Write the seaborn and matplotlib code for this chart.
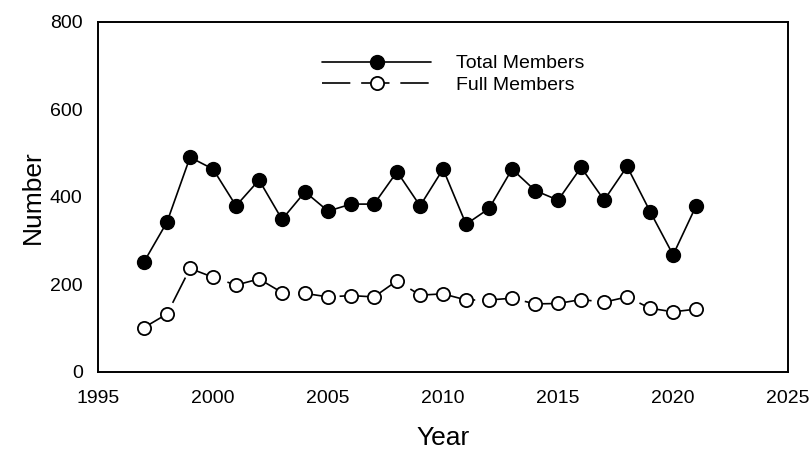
import matplotlib
matplotlib.use('Agg')
import matplotlib.pyplot as plt
import pandas as pd
import seaborn as sns

YEARS = list(range(1997, 2022))
TOTAL_MEMBERS = [251, 342, 490, 463, 379, 438, 348, 411, 367, 383, 383, 457, 379,
                 463, 337, 373, 463, 414, 392, 467, 392, 469, 366, 267, 379]
FULL_MEMBERS = [101, 132, 236, 216, 198, 212, 181, 179, 171, 174, 171, 208, 175,
                178, 164, 164, 168, 155, 156, 165, 159, 171, 145, 137, 143]

X_TICKS = [1995, 2000, 2005, 2010, 2015, 2020, 2025]
Y_TICKS = [0, 200, 400, 600, 800]

sns.set_style('white')
plt.rcParams['font.family'] = ['Liberation Sans', 'DejaVu Sans']
plt.rcParams['text.color'] = 'black'
plt.rcParams['axes.labelcolor'] = 'black'

df = pd.DataFrame({'Year': YEARS, 'Total': TOTAL_MEMBERS, 'Full': FULL_MEMBERS})

fig = plt.figure(figsize=(8.1, 4.49), dpi=100)
ax = fig.add_axes([0.121, 0.172, 0.852, 0.780])

sns.lineplot(data=df, x='Year', y='Total', ax=ax, color='black', lw=1.2,
             marker='o', markersize=10, markerfacecolor='black',
             markeredgecolor='black', markeredgewidth=1.0,
             label='Total Members')
sns.lineplot(data=df, x='Year', y='Full', ax=ax, color='black', lw=1.2,
             linestyle=(0, (17, 6.5)),
             marker='o', markersize=9.5, markerfacecolor='white',
             markeredgecolor='black', markeredgewidth=1.3,
             label='Full Members')

ax.set_xlim(1995, 2025)
ax.set_ylim(0, 800)
ax.set_xticks(X_TICKS)
ax.set_yticks(Y_TICKS)
ax.tick_params(axis='both', direction='out', length=6, width=1.3,
               labelsize=14, color='black', labelcolor='black', pad=5)
ax.tick_params(axis='x', pad=7)
for side in ['left', 'bottom', 'right', 'top']:
    ax.spines[side].set_visible(True)
    ax.spines[side].set_color('black')
    ax.spines[side].set_linewidth(1.4)

ax.set_xlabel('Year', fontsize=19, labelpad=14, color='black')
ax.set_ylabel('Number', fontsize=19, labelpad=4, color='black')

ax.legend(loc='upper left', bbox_to_anchor=(0.325, 0.905), frameon=False,
          fontsize=14, handlelength=5.6, handletextpad=1.3,
          labelspacing=0.2, borderpad=0, borderaxespad=0, numpoints=1)

fig.savefig('out.png', dpi=100)
